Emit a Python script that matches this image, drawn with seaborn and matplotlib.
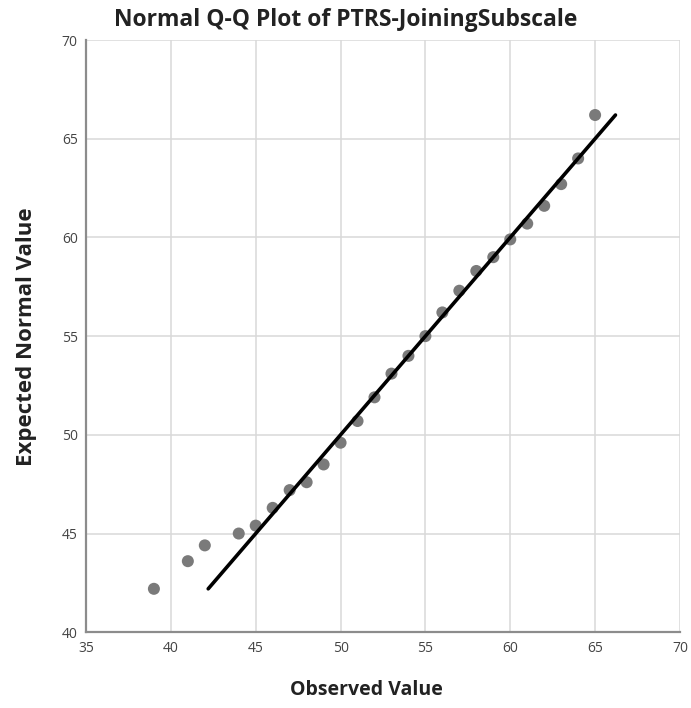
import matplotlib.pyplot as plt
import pandas as pd
import seaborn as sns

observed = [39, 41, 42, 44, 45, 46, 47, 48, 49, 50, 51, 52, 53,
            54, 55, 56, 57, 58, 59, 60, 61, 62, 63, 64, 65]
expected = [42.2, 43.6, 44.4, 45.0, 45.4, 46.3, 47.2, 47.6, 48.5, 49.6, 50.7, 51.9, 53.1,
            54.0, 55.0, 56.2, 57.3, 58.3, 59.0, 59.9, 60.7, 61.6, 62.7, 64.0, 66.2]
# reference line y = x across the expected range
ref_line = [42.2, 66.2]

df = pd.DataFrame({"observed": observed, "expected": expected})
df_line = pd.DataFrame({"x": ref_line, "y": ref_line})

sns.set_style("white")
plt.rcParams['font.family'] = ['Open Sans', 'DejaVu Sans']

fig = plt.figure(figsize=(6.91, 7.08), dpi=100)
ax = fig.add_axes([0.1245, 0.107, 0.8595, 0.8365])

sns.scatterplot(data=df, x="observed", y="expected", ax=ax,
                color="#7a7a7a", s=75, edgecolor="none", zorder=3)
sns.lineplot(data=df_line, x="x", y="y", ax=ax, color="black", linewidth=2.6, zorder=4)

ax.set_xlim(35, 70)
ax.set_ylim(40, 70)
ax.set_xticks(range(35, 71, 5))
ax.set_yticks(range(40, 71, 5))
ax.grid(True, color="#d9d9d9", linewidth=1.1)
ax.set_axisbelow(True)
for s in ["top", "right"]:
    ax.spines[s].set_visible(False)
for s in ["left", "bottom"]:
    ax.spines[s].set_color("#8c8c8c")
    ax.spines[s].set_linewidth(1.6)
ax.tick_params(length=0, labelsize=10, colors="#444444", pad=6)

ax.set_xlabel("")
ax.set_ylabel("")
fig.text(0.531, 0.025, "Observed Value", ha="center", va="center",
         fontsize=14, fontweight="bold", color="#222222")
fig.text(0.038, 0.525, "Expected Normal Value", ha="center", va="center",
         rotation=90, fontsize=16, fontweight="bold", color="#222222")
fig.text(0.5, 0.972, "Normal Q-Q Plot of PTRS-JoiningSubscale", ha="center", va="center",
         fontsize=16.5, fontweight="bold", color="#222222")

fig.savefig("out.png", dpi=100)
